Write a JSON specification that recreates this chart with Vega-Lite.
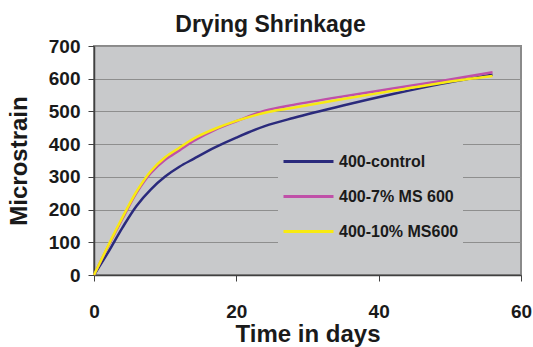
{
  "$schema": "https://vega.github.io/schema/vega-lite/v6.json",
  "width": 427,
  "height": 229,
  "autosize": {"type": "none"},
  "padding": {"left": 94, "top": 46, "right": 12, "bottom": 72},
  "background": "#ffffff",
  "title": {
    "text": "Drying Shrinkage",
    "fontSize": 23,
    "font": "Liberation Sans",
    "fontWeight": "bold",
    "color": "#1a1a1a",
    "anchor": "middle",
    "dx": -37,
    "offset": 0
  },
  "config": {
    "view": {"fill": "#c8c9cb", "stroke": "#8a8a8a", "strokeWidth": 2},
    "font": "Liberation Sans"
  },
  "data": {
    "values": [
      {"day": 0, "v": 0, "s": "400-control"},
      {"day": 2, "v": 70, "s": "400-control"},
      {"day": 4, "v": 145, "s": "400-control"},
      {"day": 6, "v": 212, "s": "400-control"},
      {"day": 8, "v": 262, "s": "400-control"},
      {"day": 10, "v": 301, "s": "400-control"},
      {"day": 12, "v": 331, "s": "400-control"},
      {"day": 14, "v": 355, "s": "400-control"},
      {"day": 17, "v": 390, "s": "400-control"},
      {"day": 20, "v": 420, "s": "400-control"},
      {"day": 24, "v": 455, "s": "400-control"},
      {"day": 28, "v": 480, "s": "400-control"},
      {"day": 35, "v": 518, "s": "400-control"},
      {"day": 42, "v": 553, "s": "400-control"},
      {"day": 49, "v": 585, "s": "400-control"},
      {"day": 56, "v": 612, "s": "400-control"},
      {"day": 0, "v": 0, "s": "400-7% MS 600"},
      {"day": 2, "v": 88, "s": "400-7% MS 600"},
      {"day": 4, "v": 172, "s": "400-7% MS 600"},
      {"day": 6, "v": 252, "s": "400-7% MS 600"},
      {"day": 8, "v": 312, "s": "400-7% MS 600"},
      {"day": 10, "v": 352, "s": "400-7% MS 600"},
      {"day": 12, "v": 381, "s": "400-7% MS 600"},
      {"day": 14, "v": 410, "s": "400-7% MS 600"},
      {"day": 17, "v": 444, "s": "400-7% MS 600"},
      {"day": 20, "v": 470, "s": "400-7% MS 600"},
      {"day": 24, "v": 502, "s": "400-7% MS 600"},
      {"day": 28, "v": 520, "s": "400-7% MS 600"},
      {"day": 35, "v": 546, "s": "400-7% MS 600"},
      {"day": 42, "v": 570, "s": "400-7% MS 600"},
      {"day": 49, "v": 594, "s": "400-7% MS 600"},
      {"day": 56, "v": 620, "s": "400-7% MS 600"},
      {"day": 0, "v": 0, "s": "400-10% MS600"},
      {"day": 2, "v": 90, "s": "400-10% MS600"},
      {"day": 4, "v": 176, "s": "400-10% MS600"},
      {"day": 6, "v": 256, "s": "400-10% MS600"},
      {"day": 8, "v": 318, "s": "400-10% MS600"},
      {"day": 10, "v": 360, "s": "400-10% MS600"},
      {"day": 12, "v": 389, "s": "400-10% MS600"},
      {"day": 14, "v": 417, "s": "400-10% MS600"},
      {"day": 17, "v": 447, "s": "400-10% MS600"},
      {"day": 20, "v": 471, "s": "400-10% MS600"},
      {"day": 24, "v": 496, "s": "400-10% MS600"},
      {"day": 28, "v": 511, "s": "400-10% MS600"},
      {"day": 35, "v": 538, "s": "400-10% MS600"},
      {"day": 42, "v": 563, "s": "400-10% MS600"},
      {"day": 49, "v": 588, "s": "400-10% MS600"},
      {"day": 56, "v": 608, "s": "400-10% MS600"}
    ]
  },
  "mark": {"type": "line", "strokeWidth": 2.5, "interpolate": "catmull-rom"},
  "encoding": {
    "x": {
      "field": "day",
      "type": "quantitative",
      "scale": {"domain": [0, 60], "nice": false},
      "axis": {
        "values": [0, 20, 40, 60],
        "grid": false,
        "title": "Time in days",
        "titleFontSize": 24,
        "titleFontWeight": "bold",
        "titleColor": "#1a1a1a",
        "titlePadding": 1,
        "labelFontSize": 19,
        "labelFontWeight": "bold",
        "labelColor": "#1a1a1a",
        "labelPadding": 21,
        "tickSize": 6,
        "tickColor": "#404040",
        "domainColor": "#404040",
        "domainWidth": 1.5,
        "labelFlush": false
      }
    },
    "y": {
      "field": "v",
      "type": "quantitative",
      "scale": {"domain": [0, 700], "nice": false},
      "axis": {
        "values": [0, 100, 200, 300, 400, 500, 600, 700],
        "grid": true,
        "gridColor": "#8e8e8e",
        "gridWidth": 1,
        "title": "Microstrain",
        "titleFontSize": 24,
        "titleFontWeight": "bold",
        "titleColor": "#1a1a1a",
        "titlePadding": 17,
        "labelFontSize": 19,
        "labelFontWeight": "bold",
        "labelColor": "#1a1a1a",
        "labelPadding": 8,
        "tickSize": 6,
        "tickColor": "#404040",
        "domainColor": "#404040",
        "domainWidth": 1.5
      }
    },
    "color": {
      "field": "s",
      "type": "nominal",
      "sort": ["400-control", "400-7% MS 600", "400-10% MS600"],
      "scale": {
        "domain": ["400-control", "400-7% MS 600", "400-10% MS600"],
        "range": ["#2a2a7c", "#c050a8", "#f8ea12"]
      },
      "legend": {
        "title": null,
        "orient": "none",
        "legendX": 184,
        "legendY": 85,
        "padding": 4,
        "fillColor": "#c8c9cb",
        "symbolType": "stroke",
        "symbolSize": 2500,
        "symbolStrokeWidth": 3,
        "labelFontSize": 16,
        "labelFontWeight": "bold",
        "labelColor": "#1a1a1a",
        "labelOffset": 4,
        "rowPadding": -17.5
      }
    }
  }
}
